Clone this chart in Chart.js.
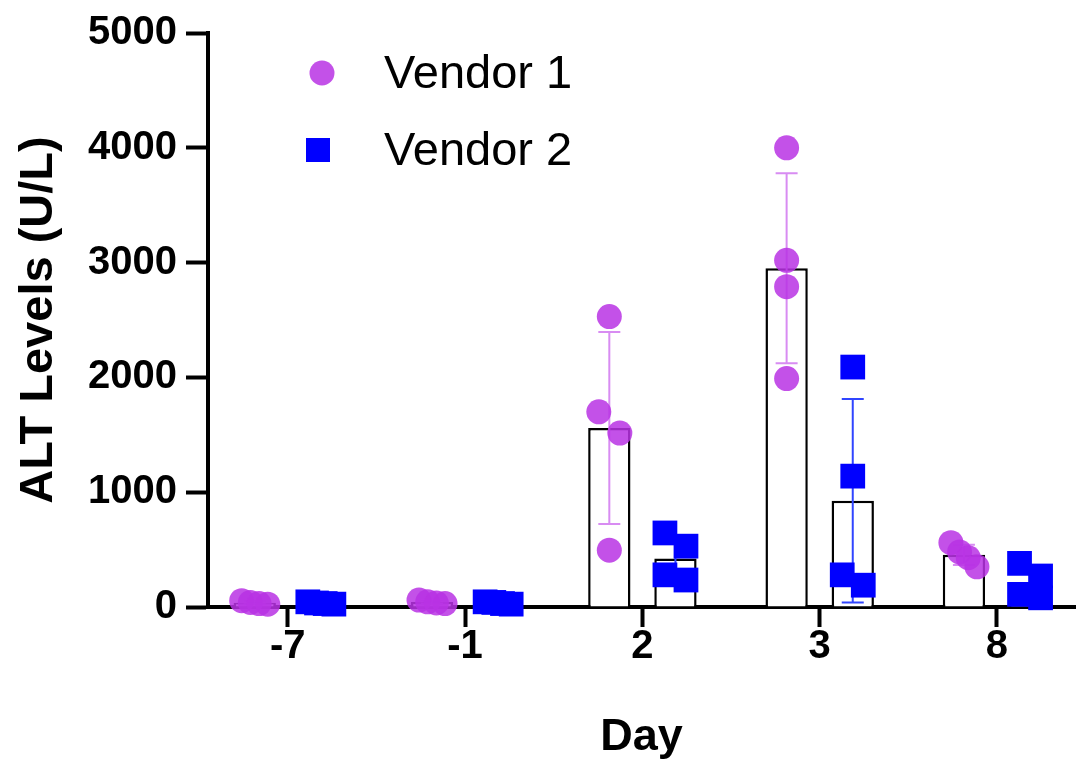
<!DOCTYPE html>
<html>
<head>
<meta charset="utf-8">
<script src="https://cdn.jsdelivr.net/npm/chart.js@4.4.1/dist/chart.umd.min.js"></script>
<style>
  html, body { margin: 0; padding: 0; background: #fff; overflow: hidden; }
  #chart { display: block; }
</style>
</head>
<body>
<canvas id="chart" width="1079" height="760"></canvas>
<script>
const DAYS = ['-7', '-1', '2', '3', '8'];
const Y_TICKS = [0, 1000, 2000, 3000, 4000, 5000];
const SERIES_NAMES = ['Vendor 1', 'Vendor 2'];

// individual animals, one array per day
const VENDOR1 = [
  [40, 55, 30, 25],
  [45, 60, 30, 35],
  [2530, 1700, 1515, 495],
  [4000, 3020, 2790, 1990],
  [560, 480, 430, 350],
];
const VENDOR2 = [
  [35, 45, 25, 30],
  [30, 40, 45, 25],
  [645, 530, 280, 235],
  [2090, 1140, 280, 190],
  [380, 270, 110, 80],
];

Chart.defaults.font.family = "'Liberation Sans', Arial, sans-serif";
Chart.defaults.color = '#000';

const C = {
  v1: 'rgba(184, 50, 228, 0.85)',
  v1Err: '#D88CF2',
  v2: '#0000FF',
  v2Err: '#3045FF',
};

const CAT_PC = 0.746;
const BAR_PC = 0.64;
const GROUP_OFF = CAT_PC / 4;   // bar centre offset, in category units
const CAT_PX = 177;             // approx px per category, for point spreading
const ROW_GAP = 215;            // U/L closer than this share a row
const PT_STEP = 21;
const MAX_SPREAD = 26;

function mean(a) { return a.reduce((s, v) => s + v, 0) / a.length; }
function sd(a) {
  const m = mean(a);
  return Math.sqrt(a.reduce((s, v) => s + (v - m) * (v - m), 0) / (a.length - 1));
}

// crude column-scatter spread like prism does
function spread(vals) {
  const order = vals.map((_, i) => i).sort((a, b) => vals[b] - vals[a]);
  const rows = [];
  order.forEach((i) => {
    const row = rows[rows.length - 1];
    if (row && vals[row[0]] - vals[i] < ROW_GAP) row.push(i);
    else rows.push([i]);
  });
  const off = vals.map(() => 0);
  rows.forEach((row) => {
    const n = row.length;
    if (n < 2) return;
    const step = Math.min(PT_STEP, MAX_SPREAD / (n - 1));
    row.forEach((i, k) => { off[i] = (k - (n - 1) / 2) * step; });
  });
  return off;
}

function pointsFor(groups, side) {
  const pts = [];
  groups.forEach((vals, i) => {
    const off = spread(vals);
    vals.forEach((v, k) => pts.push({ x: i + side * GROUP_OFF + off[k] / CAT_PX, y: v }));
  });
  return pts;
}

function barsFor(groups) {
  return groups.map((vals, i) => ({ x: i, y: mean(vals) }));
}

// mean +/- SD, drawn right after the bars so the points sit on top
const errorBars = {
  id: 'errorBars',
  afterDatasetDraw(chart, args) {
    if (args.index !== 2) return;
    const { ctx, scales: { x, y } } = chart;
    [[VENDOR1, -1, C.v1Err], [VENDOR2, 1, C.v2Err]].forEach(([groups, side, color]) => {
      groups.forEach((vals, i) => {
        const m = mean(vals);
        const s = sd(vals);
        const px = x.getPixelForValue(i + side * GROUP_OFF);
        const top = y.getPixelForValue(m + s);
        const bot = y.getPixelForValue(Math.max(m - s, 0));
        ctx.save();
        ctx.strokeStyle = color;
        ctx.lineWidth = 2;
        ctx.beginPath();
        ctx.moveTo(px, top); ctx.lineTo(px, bot);
        ctx.moveTo(px - 11, top); ctx.lineTo(px + 11, top);
        ctx.moveTo(px - 11, bot); ctx.lineTo(px + 11, bot);
        ctx.stroke();
        ctx.restore();
      });
    });
  },
};

const legendBox = {
  id: 'legendBox',
  afterDraw(chart) {
    const ctx = chart.ctx;
    ctx.save();
    ctx.font = "47px 'Liberation Sans', Arial, sans-serif";
    ctx.textBaseline = 'middle';
    ctx.fillStyle = C.v1;
    ctx.beginPath();
    ctx.arc(322, 73, 12.5, 0, Math.PI * 2);
    ctx.fill();
    ctx.fillStyle = C.v2;
    ctx.fillRect(306, 138, 24, 24);
    ctx.fillStyle = '#000';
    ctx.fillText(SERIES_NAMES[0], 384, 75);
    ctx.fillText(SERIES_NAMES[1], 384, 152);
    ctx.restore();
  },
};

new Chart(document.getElementById('chart'), {
  type: 'bar',
  data: {
    datasets: [
      {
        type: 'scatter',
        label: SERIES_NAMES[0],
        data: pointsFor(VENDOR1, -1),
        pointStyle: 'circle',
        pointRadius: 12.5,
        pointHoverRadius: 12.5,
        backgroundColor: C.v1,
        borderWidth: 0,
        clip: false,
        order: 1,
      },
      {
        type: 'scatter',
        label: SERIES_NAMES[1],
        data: pointsFor(VENDOR2, 1),
        pointStyle: 'rect',
        pointRadius: 17.5,
        pointHoverRadius: 17.5,
        backgroundColor: C.v2,
        borderWidth: 0,
        clip: false,
        order: 1,
      },
      {
        label: SERIES_NAMES[0] + ' mean',
        data: barsFor(VENDOR1),
        backgroundColor: '#fff',
        borderColor: '#000',
        borderWidth: 2.5,
        categoryPercentage: CAT_PC,
        barPercentage: BAR_PC,
        order: 2,
      },
      {
        label: SERIES_NAMES[1] + ' mean',
        data: barsFor(VENDOR2),
        backgroundColor: '#fff',
        borderColor: '#000',
        borderWidth: 2.5,
        categoryPercentage: CAT_PC,
        barPercentage: BAR_PC,
        order: 2,
      },
    ],
  },
  options: {
    responsive: false,
    animation: false,
    layout: { autoPadding: false, padding: { top: 33, right: 4, left: 0, bottom: 0 } },
    plugins: { legend: { display: false }, tooltip: { enabled: false } },
    scales: {
      x: {
        type: 'linear',
        offset: false,
        min: -0.45,
        max: 4.44,
        afterBuildTicks: (s) => { s.ticks = DAYS.map((_, i) => ({ value: i })); },
        afterFit: (s) => { s.height = 153; },
        grid: { offset: false, drawOnChartArea: false, drawTicks: true, tickLength: 20, tickWidth: 4, color: '#000' },
        border: { display: true, width: 4, color: '#000' },
        ticks: {
          padding: 0,
          font: { size: 40, weight: 'bold', lineHeight: 1 },
          callback: (v) => DAYS[v],
          maxRotation: 0,
        },
        title: {
          display: true,
          text: 'Day',
          font: { size: 45, weight: 'bold', lineHeight: 1 },
          padding: { top: 0, bottom: 0 },
        },
      },
      y: {
        min: 0,
        max: 5000,
        afterBuildTicks: (s) => { s.ticks = Y_TICKS.map((v) => ({ value: v })); },
        afterFit: (s) => { s.width = 208; },
        grid: { drawOnChartArea: false, drawTicks: true, tickLength: 22, tickWidth: 4, color: '#000' },
        border: { display: true, width: 4, color: '#000' },
        ticks: {
          padding: 9,
          font: { size: 40, weight: 'bold' },
          callback: (v) => String(v),
        },
        title: {
          display: true,
          text: 'ALT Levels (U/L)',
          font: { size: 47, weight: 'bold', lineHeight: 1 },
          padding: { top: 16, bottom: 0 },
        },
      },
    },
  },
  plugins: [errorBars, legendBox],
});
</script>
</body>
</html>
